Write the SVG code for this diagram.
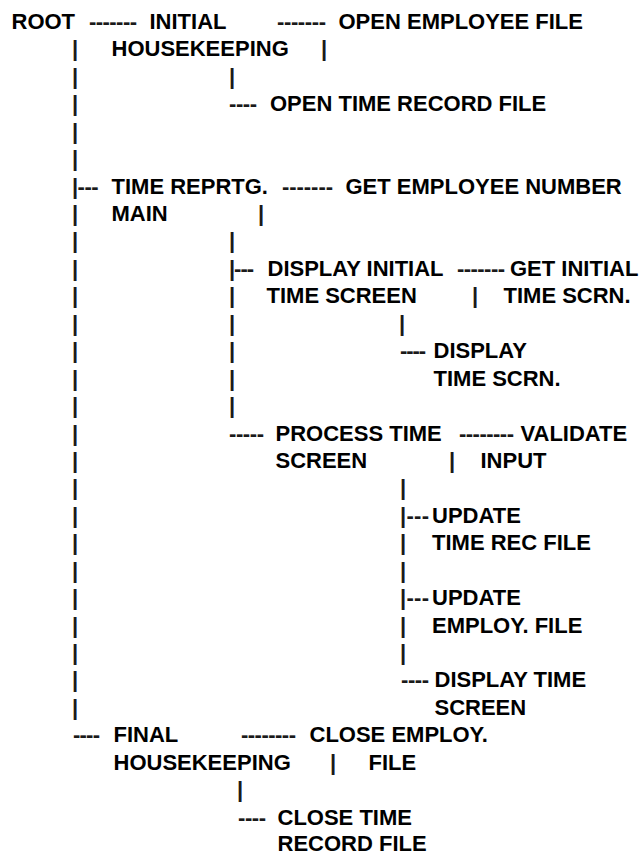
<svg xmlns="http://www.w3.org/2000/svg" width="643" height="855" viewBox="0 0 643 855">
  <style>
    text { font-family: "Liberation Sans", Arial, Helvetica, sans-serif; font-weight: bold; font-size: 22px; fill: #000; }
    .c text { fill: #1a1a1a; }
  </style>
  <rect width="643" height="855" fill="#fff"/>

  <!-- tree connectors drawn with bar and hyphen characters -->
  <g id="connectors" class="c">
    <!-- ROOT spine -->
    <text x="89" y="29" textLength="48" lengthAdjust="spacing">-------</text>
    <text x="72" y="56.4">|</text>
    <text x="72" y="83.9">|</text>
    <text x="72" y="111.3">|</text>
    <text x="72" y="138.7">|</text>
    <text x="72" y="166.2">|</text>
    <text x="72" y="193.6" textLength="26.5" lengthAdjust="spacing">|---</text>
    <text x="72" y="221.0">|</text>
    <text x="72" y="248.4">|</text>
    <text x="72" y="275.9">|</text>
    <text x="72" y="303.3">|</text>
    <text x="72" y="330.7">|</text>
    <text x="72" y="358.2">|</text>
    <text x="72" y="385.6">|</text>
    <text x="72" y="413.0">|</text>
    <text x="72" y="440.5">|</text>
    <text x="72" y="467.9">|</text>
    <text x="72" y="495.3">|</text>
    <text x="72" y="522.7">|</text>
    <text x="72" y="550.2">|</text>
    <text x="72" y="577.6">|</text>
    <text x="72" y="605.0">|</text>
    <text x="72" y="632.5">|</text>
    <text x="72" y="659.9">|</text>
    <text x="72" y="687.3">|</text>
    <text x="72" y="714.8">|</text>
    <text x="73" y="742.2" textLength="27" lengthAdjust="spacing">----</text>

    <!-- INITIAL HOUSEKEEPING branch -->
    <text x="277" y="29" textLength="49" lengthAdjust="spacing">-------</text>
    <text x="321" y="56.4">|</text>
    <text x="229" y="83.9">|</text>
    <text x="229" y="111.3" textLength="28" lengthAdjust="spacing">----</text>

    <!-- TIME REPRTG. MAIN branch -->
    <text x="282" y="193.6" textLength="51" lengthAdjust="spacing">-------</text>
    <text x="258" y="221.0">|</text>
    <text x="229" y="248.4">|</text>
    <text x="229" y="275.9" textLength="25" lengthAdjust="spacing">|---</text>
    <text x="229" y="303.3">|</text>
    <text x="229" y="330.7">|</text>
    <text x="229" y="358.2">|</text>
    <text x="229" y="385.6">|</text>
    <text x="229" y="413.0">|</text>
    <text x="229" y="440.5" textLength="35" lengthAdjust="spacing">-----</text>

    <!-- DISPLAY INITIAL TIME SCREEN branch -->
    <text x="457" y="275.9" textLength="48" lengthAdjust="spacing">-------</text>
    <text x="472" y="303.3">|</text>
    <text x="399" y="330.7">|</text>
    <text x="400" y="358.2" textLength="26" lengthAdjust="spacing">----</text>

    <!-- PROCESS TIME SCREEN branch -->
    <text x="459" y="440.5" textLength="55" lengthAdjust="spacing">--------</text>
    <text x="449" y="467.9">|</text>
    <text x="400" y="495.3">|</text>
    <text x="400" y="522.7" textLength="29" lengthAdjust="spacing">|---</text>
    <text x="400" y="550.2">|</text>
    <text x="400" y="577.6">|</text>
    <text x="400" y="605.0" textLength="29" lengthAdjust="spacing">|---</text>
    <text x="400" y="632.5">|</text>
    <text x="400" y="659.9">|</text>
    <text x="401" y="687.3" textLength="28" lengthAdjust="spacing">----</text>

    <!-- FINAL HOUSEKEEPING branch -->
    <text x="241" y="742.2" textLength="55" lengthAdjust="spacing">--------</text>
    <text x="330" y="769.6">|</text>
    <text x="237" y="797.0">|</text>
    <text x="238" y="824.5" textLength="28" lengthAdjust="spacing">----</text>
  </g>

  <g id="root"><text x="11.5" y="29">ROOT</text></g>
  <g id="initial-housekeeping">
    <text x="149.5" y="29">INITIAL</text>
    <text x="111.5" y="56.4">HOUSEKEEPING</text>
  </g>
  <g id="open-employee-file"><text x="338.5" y="29">OPEN EMPLOYEE FILE</text></g>
  <g id="open-time-record-file"><text x="270" y="111.3">OPEN TIME RECORD FILE</text></g>

  <g id="time-reprtg-main">
    <text x="111.5" y="193.6">TIME REPRTG.</text>
    <text x="111.5" y="221.0">MAIN</text>
  </g>
  <g id="get-employee-number"><text x="345.5" y="193.6">GET EMPLOYEE NUMBER</text></g>

  <g id="display-initial-time-screen">
    <text x="267.5" y="275.9">DISPLAY INITIAL</text>
    <text x="266.5" y="303.3">TIME SCREEN</text>
  </g>
  <g id="get-initial-time-scrn">
    <text x="510" y="275.9">GET INITIAL</text>
    <text x="503.5" y="303.3">TIME SCRN.</text>
  </g>
  <g id="display-time-scrn">
    <text x="433.5" y="358.2">DISPLAY</text>
    <text x="433.5" y="385.6">TIME SCRN.</text>
  </g>

  <g id="process-time-screen">
    <text x="275.5" y="440.5">PROCESS TIME</text>
    <text x="275.5" y="467.9">SCREEN</text>
  </g>
  <g id="validate-input">
    <text x="520.5" y="440.5">VALIDATE</text>
    <text x="480.5" y="467.9">INPUT</text>
  </g>
  <g id="update-time-rec-file">
    <text x="432" y="522.7">UPDATE</text>
    <text x="432" y="550.2">TIME REC FILE</text>
  </g>
  <g id="update-employ-file">
    <text x="432" y="605.0">UPDATE</text>
    <text x="432" y="632.5">EMPLOY. FILE</text>
  </g>
  <g id="display-time-screen">
    <text x="434.5" y="687.3">DISPLAY TIME</text>
    <text x="434.5" y="714.8">SCREEN</text>
  </g>

  <g id="final-housekeeping">
    <text x="113.5" y="742.2">FINAL</text>
    <text x="113.5" y="769.6">HOUSEKEEPING</text>
  </g>
  <g id="close-employ-file">
    <text x="309.5" y="742.2">CLOSE EMPLOY.</text>
    <text x="368.5" y="769.6">FILE</text>
  </g>
  <g id="close-time-record-file">
    <text x="277.5" y="824.5">CLOSE TIME</text>
    <text x="277.5" y="850.5">RECORD FILE</text>
  </g>
</svg>
